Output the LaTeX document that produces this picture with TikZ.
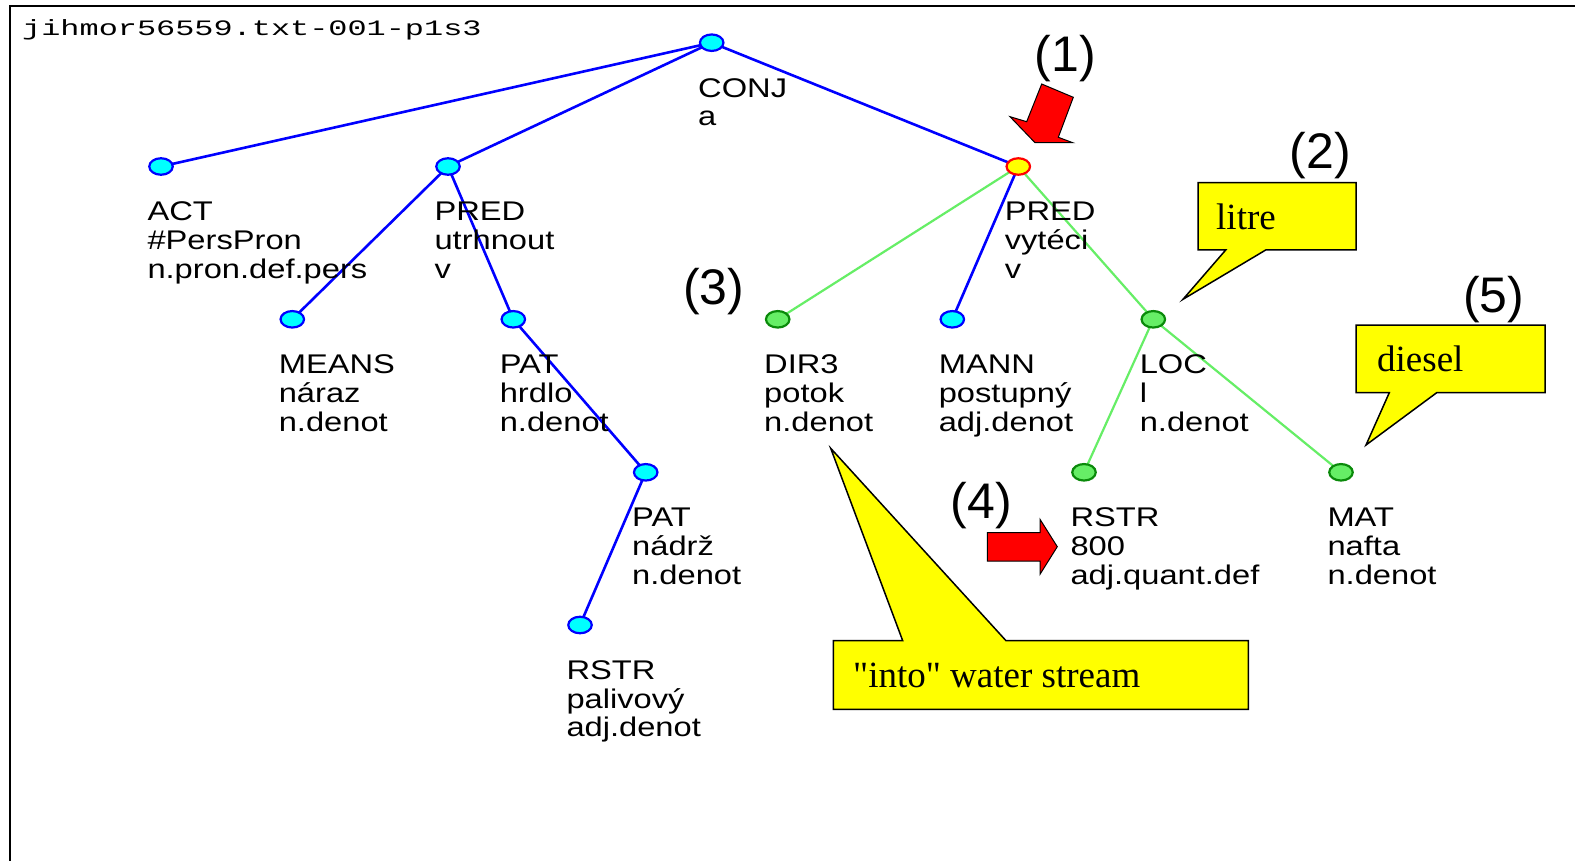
\documentclass[tikz,border=0pt]{standalone}
\usepackage{fontspec}
\setmainfont{Liberation Sans}
\newfontfamily\labfont{Liberation Sans}[FakeStretch=1.21]
\newfontfamily\ttlfont{Liberation Mono}[FakeStretch=1.45]
\newfontfamily\serfont{Liberation Serif}
\newfontfamily\numfont{Liberation Sans}
\usetikzlibrary{shapes.geometric}
\pgfdeclarelayer{bg}
\pgfdeclarelayer{edges}
\pgfsetlayers{bg,edges,main}
\definecolor{ecyan}{HTML}{00FFFF}
\definecolor{eblue}{HTML}{0000FF}
\definecolor{egreen}{HTML}{66EE66}
\definecolor{dgreen}{HTML}{0A8A0A}
\definecolor{eyellow}{HTML}{FFFF00}
\definecolor{ered}{HTML}{FF0000}
\newcommand\tlabiii[3]{\vtop{\baselineskip=28.7pt\lineskiplimit=-50pt\hbox{#1}\hbox{#2}\hbox{#3}}}
\newcommand\tlabii[2]{\vtop{\baselineskip=28.7pt\lineskiplimit=-50pt\hbox{#1}\hbox{#2}}}
\tikzset{
  tnode/.style={ellipse, line width=2.2pt, minimum width=23.5pt, minimum height=16.5pt, inner sep=0pt},
  cyannode/.style={tnode, draw=eblue, fill=ecyan},
  greennode/.style={tnode, draw=dgreen, fill=egreen},
  hinode/.style={tnode, draw=ered, fill=eyellow},
  lab/.style={anchor=base west, inner sep=0pt, font=\labfont\fontsize{27}{28.7}\selectfont},
  bedge/.style={draw=eblue, line width=2.6pt},
  gedge/.style={draw=egreen, line width=2.2pt},
  num/.style={anchor=base west, inner sep=0pt, font=\numfont\fontsize{50}{50}\selectfont},
  callout/.style={fill=eyellow, draw=black, line width=1.5pt, line join=miter},
  ctext/.style={anchor=base west, inner sep=0pt, font=\serfont\fontsize{37}{37}\selectfont},
  redarrow/.style={fill=ered, draw=black, line width=1pt, line join=miter},
  labshift/.style={xshift=-13.7pt, yshift=-54.5pt},
}
\begin{document}
\begin{tikzpicture}[x=1pt, y=-1pt]
\useasboundingbox (0,0) rectangle (1575,861);
\begin{pgfonlayer}{bg}
\fill[white] (0,0) rectangle (1575,861);
\end{pgfonlayer}
% frame
\draw[line width=2pt, black] (10,861) -- (10,6.5) -- (1575,6.5);
\node[anchor=base west, inner sep=0pt, font=\ttlfont\fontsize{22}{22}\selectfont] (title) at (22,36) {jihmor56559.txt-001-p1s3};

% nodes
\node[cyannode] (root) at (711.7,42.7) {};
\node[cyannode] (act) at (161,166.5) {};
\node[cyannode] (pred1) at (448,166.5) {};
\node[hinode] (pred2) at (1018.3,166.5) {};
\node[cyannode] (means) at (292.3,319.3) {};
\node[cyannode] (pat1) at (513.3,319.3) {};
\node[greennode] (dir3) at (777.7,319.3) {};
\node[cyannode] (mann) at (952.3,319.3) {};
\node[greennode] (loc) at (1153.3,319.3) {};
\node[cyannode] (pat2) at (645.7,472.3) {};
\node[greennode] (rstr8) at (1084,472.3) {};
\node[greennode] (mat) at (1341,472.3) {};
\node[cyannode] (rstrp) at (580,625) {};

% edges (under the nodes)
\begin{pgfonlayer}{edges}
\draw[bedge] (root.center) -- (act.center);
\draw[bedge] (root.center) -- (pred1.center);
\draw[bedge] (root.center) -- (pred2.center);
\draw[bedge] (pred1.center) -- (means.center);
\draw[bedge] (pred1.center) -- (pat1.center);
\draw[bedge] (pat1.center) -- (pat2.center);
\draw[bedge] (pat2.center) -- (rstrp.center);
\draw[gedge] (pred2.center) -- (dir3.center);
\draw[bedge] (pred2.center) -- (mann.center);
\draw[gedge] (pred2.center) -- (loc.center);
\draw[gedge] (loc.center) -- (rstr8.center);
\draw[gedge] (loc.center) -- (mat.center);
\end{pgfonlayer}

% labels
\node[lab] (lroot) at ([labshift]root.center) {\tlabii{CONJ}{a}};
\node[lab] (lact) at ([labshift]act.center) {\tlabiii{ACT}{\#PersPron}{n.pron.def.pers}};
\node[lab] (lpred1) at ([labshift]pred1.center) {\tlabiii{PRED}{utrhnout}{v}};
\node[lab] (lpred2) at ([labshift]pred2.center) {\tlabiii{PRED}{vytéci}{v}};
\node[lab] (lmeans) at ([labshift]means.center) {\tlabiii{MEANS}{náraz}{n.denot}};
\node[lab] (lpat1) at ([labshift]pat1.center) {\tlabiii{PAT}{hrdlo}{n.denot}};
\node[lab] (ldir3) at ([labshift]dir3.center) {\tlabiii{DIR3}{potok}{n.denot}};
\node[lab] (lmann) at ([labshift]mann.center) {\tlabiii{MANN}{postupný}{adj.denot}};
\node[lab] (lloc) at ([labshift]loc.center) {\tlabiii{LOC}{l}{n.denot}};
\node[lab] (lpat2) at ([labshift]pat2.center) {\tlabiii{PAT}{nádrž}{n.denot}};
\node[lab] (lrstr8) at ([labshift]rstr8.center) {\tlabiii{RSTR}{800}{adj.quant.def}};
\node[lab] (lmat) at ([labshift]mat.center) {\tlabiii{MAT}{nafta}{n.denot}};
\node[lab] (lrstrp) at ([labshift]rstrp.center) {\tlabiii{RSTR}{palivový}{adj.denot}};

% numbers
\node[num] (n1) at (1034.5,71.5) {(1)};
\node[num] (n2) at (1289.5,168.5) {(2)};
\node[num] (n3) at (683,304.3) {(3)};
\node[num] (n4) at (950.5,518.5) {(4)};
\node[num] (n5) at (1463,312.8) {(5)};

% red arrows
\draw[redarrow] (1041.7,84) -- (1073.3,97.3) -- (1058.3,137.3) -- (1072.7,142.7)
  -- (1035,142.7) -- (1010,116.7) -- (1026.7,121.7) -- cycle;
\draw[redarrow] (987.3,532.7) -- (1040,532.7) -- (1040,519.3) -- (1057.3,546.7)
  -- (1040,574.3) -- (1040,561) -- (987.3,561) -- cycle;

% callouts
\draw[callout] (1198,182.7) -- (1356,182.7) -- (1356,250) -- (1265.7,250)
  -- (1183,299.3) -- (1225.7,250) -- (1198,250) -- cycle;
\node[ctext] (tlitre) at (1216,229.3) {litre};
\draw[callout] (1356,325) -- (1545,325) -- (1545,392.7) -- (1436.7,392.7)
  -- (1366,445) -- (1389.3,392.7) -- (1356,392.7) -- cycle;
\node[ctext] (tdiesel) at (1377,371) {diesel};
\draw[callout] (833.3,640.7) -- (902.7,640.7) -- (830.7,448.3) -- (1006,640.7)
  -- (1248.3,640.7) -- (1248.3,709.3) -- (833.3,709.3) -- cycle;
\node[ctext] (tinto) at (853,687.3) {"into" water stream};
\end{tikzpicture}
\end{document}
